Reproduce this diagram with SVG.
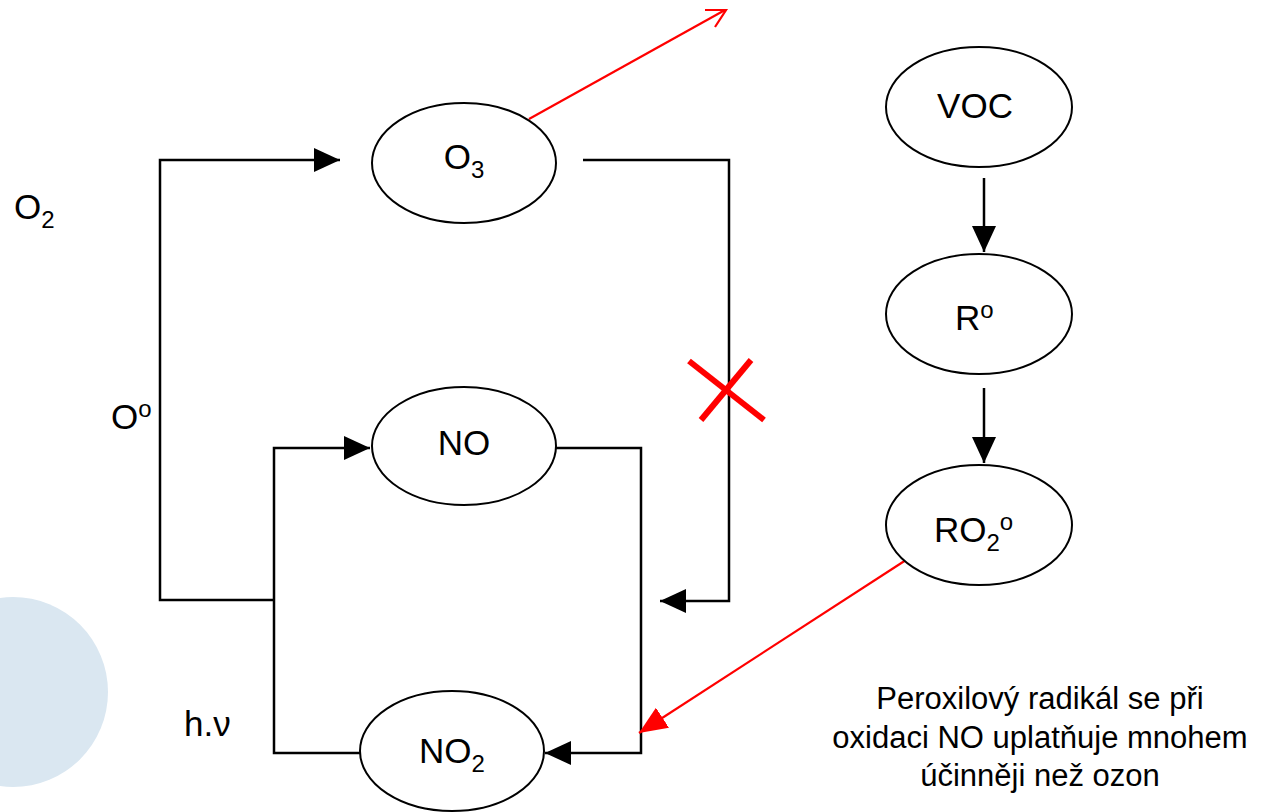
<svg xmlns="http://www.w3.org/2000/svg" width="1266" height="812" viewBox="0 0 1266 812">
<style>
text{font-family:"Liberation Sans",Arial,sans-serif;fill:#000;}
.lbl{font-size:35px;}
.node{fill:#fff;stroke:#000;stroke-width:2;}
.conn{fill:none;stroke:#000;stroke-width:2.5;}
.red{fill:none;stroke:#ff0000;stroke-width:2.2;}
.cross{stroke:#ff0000;stroke-width:6;}
.note{font-size:31px;}
</style>
<defs>
<marker id="ah" viewBox="0 0 26 24" refX="26" refY="12" markerWidth="26" markerHeight="24" markerUnits="userSpaceOnUse" orient="auto">
<path d="M0,0 L26,12 L0,24 z" fill="#000"/>
</marker>
<marker id="ahr" viewBox="0 0 28 24" refX="28" refY="12" markerWidth="28" markerHeight="24" markerUnits="userSpaceOnUse" orient="auto">
<path d="M0,0 L28,12 L0,24 z" fill="#ff0000"/>
</marker>
</defs>
<rect width="1266" height="812" fill="#fff"/>
<circle cx="13" cy="692" r="95" fill="#dae7f1"/>

<g id="connectors">
<path class="conn" d="M274,600 H160 V160 H340" marker-end="url(#ah)"/>
<path class="conn" d="M360,753 H274 V448 H370" marker-end="url(#ah)"/>
<path class="conn" d="M583,160 H729 V601 H660" marker-end="url(#ah)"/>
<path class="conn" d="M556,448 H641 V753 H545" marker-end="url(#ah)"/>
<path class="conn" d="M984,178 V252" marker-end="url(#ah)"/>
<path class="conn" d="M984,388 V463" marker-end="url(#ah)"/>
<path class="red" d="M906,560 L639,733" marker-end="url(#ahr)"/>
<path class="red" d="M529,119 L725,10"/>
<path class="red" stroke-width="3" d="M705,10 L726,10 L715,27"/>
<line class="cross" x1="689" y1="361" x2="764" y2="420"/>
<line class="cross" x1="751" y1="360" x2="701" y2="420"/>
</g>

<g id="O3">
<ellipse class="node" cx="464" cy="163" rx="92" ry="60"/>
<text class="lbl" x="464" y="169" text-anchor="middle">O<tspan font-size="24" dy="9">3</tspan></text>
</g>
<g id="NO">
<ellipse class="node" cx="464" cy="446" rx="92" ry="59"/>
<text class="lbl" x="464" y="455" text-anchor="middle">NO</text>
</g>
<g id="NO2">
<ellipse class="node" cx="452" cy="751" rx="92" ry="60"/>
<text class="lbl" x="452" y="763" text-anchor="middle">NO<tspan font-size="24" dy="9">2</tspan></text>
</g>
<g id="VOC">
<ellipse class="node" cx="979" cy="107" rx="93" ry="60"/>
<text class="lbl" x="975" y="118" text-anchor="middle">VOC</text>
</g>
<g id="R">
<ellipse class="node" cx="979" cy="314" rx="93" ry="60"/>
<text class="lbl" x="955" y="330">R<tspan font-size="24" dy="-12">o</tspan></text>
</g>
<g id="RO2">
<ellipse class="node" cx="979" cy="525" rx="93" ry="60"/>
<text class="lbl" x="934" y="542">RO<tspan font-size="24" dy="9">2</tspan><tspan font-size="24" dy="-21">o</tspan></text>
</g>

<g id="labels">
<text class="lbl" x="14" y="219">O<tspan font-size="24" dy="9">2</tspan></text>
<text class="lbl" x="111" y="429">O<tspan font-size="24" dy="-12">o</tspan></text>
<text class="lbl" x="184" y="736">h.ν</text>
<text class="note" text-anchor="middle" x="1040" y="709">Peroxilový radikál se při</text>
<text class="note" text-anchor="middle" x="1040" y="748">oxidaci NO uplatňuje mnohem</text>
<text class="note" text-anchor="middle" x="1040" y="786">účinněji než ozon</text>
</g>
</svg>
